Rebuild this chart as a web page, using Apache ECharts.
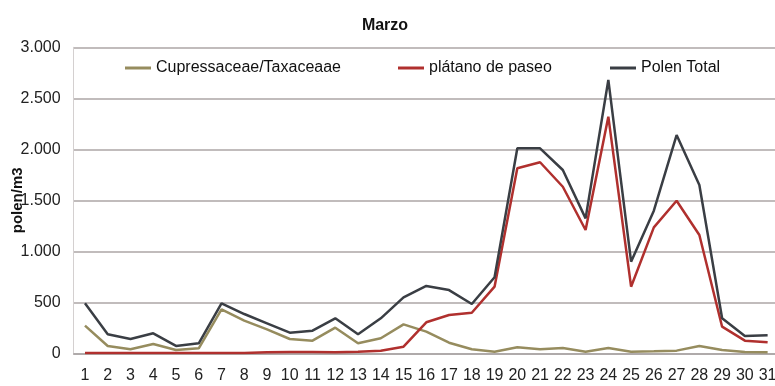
<!DOCTYPE html>
<html>
<head>
<meta charset="utf-8">
<script src="https://cdn.jsdelivr.net/npm/echarts@6/dist/echarts.min.js"></script>
<style>
  html, body { margin: 0; padding: 0; background: #ffffff; }
  #chart { width: 775px; height: 386px; }
</style>
</head>
<body>
<div id="chart"></div>
<script>
// Daily pollen counts for March (grains per m3)
const days = Array.from({ length: 31 }, (_, i) => String(i + 1));
const cupressaceae = [271, 72, 39, 91, 32, 49, 431, 320, 235, 140, 124, 251, 98, 147, 284, 212, 104, 39, 16, 59, 39, 52, 16, 52, 16, 20, 26, 72, 32, 13, 10];
const platano = [3, 3, 3, 3, 3, 3, 3, 3, 10, 13, 13, 10, 16, 26, 65, 304, 375, 398, 653, 1814, 1873, 1633, 1209, 2320, 653, 1235, 1496, 1160, 261, 124, 108];
const polenTotal = [490, 186, 140, 196, 72, 98, 490, 385, 294, 202, 222, 343, 186, 343, 549, 660, 620, 483, 745, 2010, 2010, 1797, 1323, 2680, 898, 1398, 2140, 1650, 343, 170, 176];

const names = ['Cupressaceae/Taxaceaae', 'plátano de paseo', 'Polen Total'];
const colors = ['#968c5e', '#b0302e', '#3a3e44'];
const FONT = 'Liberation Sans, Arial, sans-serif';

const chart = echarts.init(document.getElementById('chart'), null, { renderer: 'canvas' });

function legendAt(name, left) {
  return {
    data: [name],
    left: left,
    top: 60,
    icon: 'rect',
    itemWidth: 26,
    itemHeight: 3,
    padding: 0,
    textStyle: { fontFamily: FONT, fontSize: 16, color: '#111' },
    selectedMode: false
  };
}

chart.setOption({
  backgroundColor: '#ffffff',
  animation: false,
  color: colors,
  title: {
    text: 'Marzo',
    left: 380,
    textAlign: 'center',
    top: 13,
    textStyle: { fontFamily: FONT, fontSize: 16, fontWeight: 'bold', color: '#111' }
  },
  legend: [
    legendAt(names[0], 125),
    legendAt(names[1], 398),
    legendAt(names[2], 610)
  ],
  grid: { left: 73.6, right: -4, top: 47.3, bottom: 32.7, containLabel: false, outerBoundsMode: 'none' },
  xAxis: {
    type: 'category',
    data: days,
    boundaryGap: true,
    axisLine: { show: true, lineStyle: { color: '#a9a4a4', width: 1.5 } },
    axisTick: { show: false },
    axisLabel: { fontFamily: FONT, fontSize: 16, color: '#222', margin: 14, interval: 0 },
    splitLine: { show: false }
  },
  yAxis: {
    type: 'value',
    min: 0,
    max: 3000,
    interval: 500,
    name: 'polen/m3',
    nameLocation: 'middle',
    nameGap: 48,
    nameMoveOverlap: false,
    nameTextStyle: { fontFamily: FONT, fontSize: 15, fontWeight: 'bold', color: '#111' },
    axisLine: { show: true, lineStyle: { color: '#d4d0d0', width: 1 } },
    axisTick: { show: false },
    axisLabel: {
      fontFamily: FONT, fontSize: 16, color: '#222', margin: 13,
      formatter: v => v.toLocaleString('de-DE')
    },
    splitLine: { show: true, lineStyle: { color: '#aca6a6', width: 1.5 } }
  },
  series: [
    { name: names[0], type: 'line', data: cupressaceae, symbol: 'none', lineStyle: { width: 2.5, color: colors[0] }, z: 2 },
    { name: names[1], type: 'line', data: platano, symbol: 'none', lineStyle: { width: 2.5, color: colors[1] }, z: 3 },
    { name: names[2], type: 'line', data: polenTotal, symbol: 'none', lineStyle: { width: 2.5, color: colors[2] }, z: 4 }
  ]
});
</script>
</body>
</html>
